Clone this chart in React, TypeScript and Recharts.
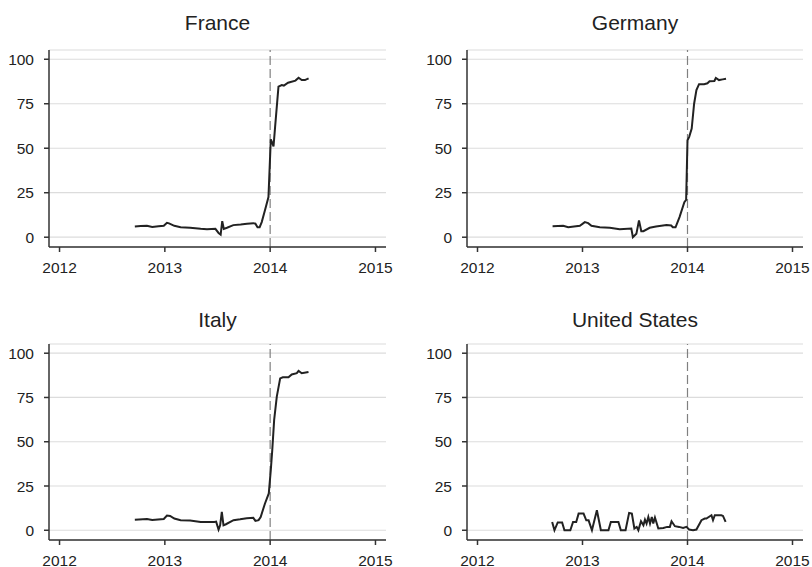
import { CartesianGrid, Line, LineChart, ReferenceLine, XAxis, YAxis } from 'recharts'

const yearTicks = [2012, 2013, 2014, 2015]
const valueTicks = [0, 25, 50, 75, 100]

const franceT = [
  2012.715, 2012.77, 2012.83, 2012.88, 2012.94, 2012.99, 2013.02, 2013.04, 2013.09, 2013.15,
  2013.24, 2013.34, 2013.4, 2013.48, 2013.51, 2013.53, 2013.545, 2013.56, 2013.59, 2013.65,
  2013.72, 2013.78, 2013.84, 2013.86, 2013.88, 2013.9, 2013.92, 2013.95, 2013.984, 2014.006,
  2014.02, 2014.032, 2014.047, 2014.079, 2014.11, 2014.13, 2014.17, 2014.24, 2014.27, 2014.3,
  2014.33, 2014.365,
]
const franceV = [
  6.0, 6.3, 6.4, 5.8, 6.2, 6.4, 8.1, 7.8, 6.4, 5.6,
  5.3, 4.7, 4.5, 4.7, 2.4, 1.5, 9.0, 4.7, 5.3, 6.8,
  7.1, 7.5, 7.9, 7.6, 5.6, 5.6, 8.5, 15, 22.6, 55,
  53, 51, 62, 84.6, 85.5, 85.2, 86.8, 88, 89.6, 88.3,
  88.3, 89.3,
]

const germanyT = [
  2012.715, 2012.816, 2012.864, 2012.975, 2013.022, 2013.054, 2013.085, 2013.165, 2013.26, 2013.354,
  2013.465, 2013.48, 2013.513, 2013.538, 2013.56, 2013.58, 2013.64, 2013.7, 2013.8, 2013.845,
  2013.86, 2013.886, 2013.924, 2013.97, 2013.987, 2014.0, 2014.016, 2014.04, 2014.063, 2014.085,
  2014.11, 2014.158, 2014.19, 2014.21, 2014.256, 2014.27, 2014.3, 2014.335, 2014.367,
]
const germanyV = [
  6.2, 6.4, 5.6, 6.4, 8.5, 7.9, 6.4, 5.6, 5.3, 4.5,
  4.9, 0, 1.9, 9.4, 3.4, 3.4, 5.3, 6.0, 6.8, 6.6,
  5.6, 5.6, 11.3, 19.7, 21, 54.5, 56.4, 61, 75, 82.7,
  86, 86, 86.5, 87.6, 87.8, 89.5, 88.3, 88.7, 89.1,
]

const italyT = [
  2012.715, 2012.83, 2012.88, 2012.99, 2013.02, 2013.05, 2013.09, 2013.15, 2013.24, 2013.34,
  2013.47, 2013.487, 2013.51, 2013.525, 2013.541, 2013.557, 2013.58, 2013.652, 2013.715, 2013.778,
  2013.84, 2013.86, 2013.89, 2013.91, 2013.95, 2013.987, 2014.006, 2014.02, 2014.038, 2014.063,
  2014.095, 2014.12, 2014.174, 2014.205, 2014.253, 2014.27, 2014.3, 2014.364,
]
const italyV = [
  6.0, 6.4, 5.8, 6.4, 8.3, 8.1, 6.6, 5.7, 5.5, 4.7,
  4.7, 4.9, 0.4, 2.8, 10.4, 2.8, 3.4, 5.7, 6.2, 6.8,
  7.0, 5.3, 5.7, 7.5, 15, 20.8, 34, 45.3, 62.3, 75.5,
  85.8, 86.4, 86.4, 88, 88.7, 90, 88.7, 89.4,
]

const usT = [
  2012.711, 2012.733, 2012.764, 2012.806, 2012.828, 2012.884, 2012.91, 2012.94, 2012.963, 2013.01,
  2013.036, 2013.058, 2013.09, 2013.137, 2013.175, 2013.247, 2013.27, 2013.342, 2013.365, 2013.41,
  2013.444, 2013.47, 2013.494, 2013.516, 2013.532, 2013.557, 2013.58, 2013.595, 2013.61, 2013.627,
  2013.643, 2013.66, 2013.674, 2013.69, 2013.722, 2013.77, 2013.806, 2013.832, 2013.848, 2013.88,
  2013.92, 2013.958, 2013.99, 2014.015, 2014.053, 2014.085, 2014.133, 2014.164, 2014.18, 2014.228,
  2014.243, 2014.26, 2014.322, 2014.338, 2014.363,
]
const usV = [
  4.7, 0, 4.4, 4.4, 0, 0, 4.7, 4.7, 9.4, 9.4,
  5.6, 5.6, 0, 11.3, 0, 0, 4.7, 4.7, 0, 0,
  9.8, 9.4, 1.0, 1.9, 0, 5.1, 2.8, 6.0, 3.8, 7.5,
  3.8, 7.5, 3.8, 7.2, 1.0, 1.3, 1.9, 1.9, 5.1, 2.3,
  1.9, 1.3, 1.9, 0.4, 0, 0.4, 5.7, 6.6, 6.6, 8.5,
  5.7, 8.5, 8.5, 8.1, 4.7,
]

const font = '"Liberation Sans", Arial, Helvetica, sans-serif'

interface PanelProps {
  title: string
  t: number[]
  v: number[]
  x: number
  y: number
  w: number
  h: number
  titleBase: number
}

function Panel({ title, t, v, x, y, w, h, titleBase }: PanelProps) {
  const padL = 60
  const padT = 10
  const padR = 12
  const padB = 30
  const data = t.map((tt, i) => ({ t: tt, v: v[i] }))
  return (
    <>
      <div
        style={{
          position: 'absolute',
          left: x,
          width: w,
          top: titleBase - 17.4,
          textAlign: 'center',
          fontSize: 21,
          lineHeight: '21px',
          color: '#222',
          fontFamily: font,
        }}
      >
        {title}
      </div>
      <div style={{ position: 'absolute', left: x - padL, top: y - padT }}>
        <LineChart
          width={padL + w + padR}
          height={padT + h + padB}
          data={data}
          margin={{ top: padT, right: padR, bottom: 0, left: 0 }}
          style={{ fontFamily: font }}
        >
          <CartesianGrid vertical={false} stroke="#dcdcdc" strokeWidth={1.2} />
          <XAxis
            dataKey="t"
            type="number"
            domain={[2011.9, 2015.1]}
            ticks={yearTicks}
            height={padB}
            tickSize={5}
            tickMargin={10}
            stroke="#333"
            strokeWidth={1.5}
            tick={{ fill: '#222', fontSize: 15.5 }}
            allowDataOverflow
          />
          <YAxis
            type="number"
            domain={[-5.5, 105.2]}
            ticks={valueTicks}
            width={padL}
            tickSize={5}
            tickMargin={10}
            stroke="#333"
            strokeWidth={1.5}
            tick={{ fill: '#222', fontSize: 15.5 }}
            allowDataOverflow
          />
          <ReferenceLine x={2014} stroke="#808080" strokeDasharray="9 4" strokeWidth={1.2} />
          <Line
            type="linear"
            dataKey="v"
            stroke="#222"
            strokeWidth={2}
            dot={false}
            isAnimationActive={false}
          />
        </LineChart>
      </div>
    </>
  )
}

export default function App() {
  return (
    <div
      style={{
        position: 'fixed',
        left: 0,
        top: 0,
        width: 812,
        height: 567,
        background: '#fff',
        overflow: 'hidden',
      }}
    >
      <Panel title="France" t={franceT} v={franceV} x={49} y={50} w={337} h={197} titleBase={29} />
      <Panel title="Germany" t={germanyT} v={germanyV} x={467} y={50} w={336} h={197} titleBase={29} />
      <Panel title="Italy" t={italyT} v={italyV} x={49} y={343.5} w={337} h={196} titleBase={326} />
      <Panel title="United States" t={usT} v={usV} x={467} y={343.5} w={336} h={196} titleBase={326} />
    </div>
  )
}
